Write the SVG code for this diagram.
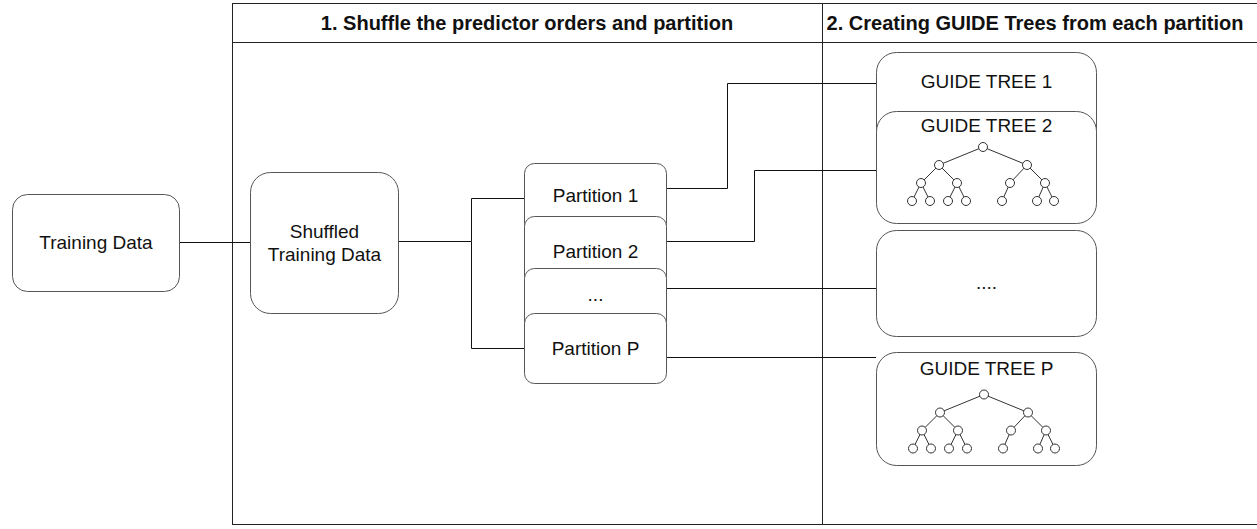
<svg xmlns="http://www.w3.org/2000/svg" width="1257" height="529" viewBox="0 0 1257 529">
<style>
.frame{fill:none;stroke:#222;stroke-width:1}
.box{fill:#fff;stroke:#555;stroke-width:1}
.t{font-family:"Liberation Sans",Arial,sans-serif;font-size:19px;fill:#111;text-anchor:middle}
.h{font-family:"Liberation Sans",Arial,sans-serif;font-size:20px;font-weight:bold;fill:#111;text-anchor:middle}
.c{fill:none;stroke:#111;stroke-width:1}
.tree line{stroke:#333;stroke-width:1}
.tree circle{fill:#fff;stroke:#333;stroke-width:1}
</style>
<defs>
<g id="tree" class="tree">
<line x1="983" y1="147" x2="939" y2="165"/><line x1="983" y1="147" x2="1027" y2="165"/>
<line x1="939" y1="165" x2="921" y2="183"/><line x1="939" y1="165" x2="957" y2="183"/>
<line x1="1027" y1="165" x2="1010" y2="183"/><line x1="1027" y1="165" x2="1045" y2="183"/>
<line x1="921" y1="183" x2="912" y2="201"/><line x1="921" y1="183" x2="930" y2="201"/>
<line x1="957" y1="183" x2="948" y2="201"/><line x1="957" y1="183" x2="966" y2="201"/>
<line x1="1010" y1="183" x2="1002" y2="201"/>
<line x1="1045" y1="183" x2="1037" y2="201"/><line x1="1045" y1="183" x2="1054" y2="201"/>
<circle cx="983" cy="147" r="4.5"/>
<circle cx="939" cy="165" r="4.5"/><circle cx="1027" cy="165" r="4.5"/>
<circle cx="921" cy="183" r="4.5"/><circle cx="957" cy="183" r="4.5"/><circle cx="1010" cy="183" r="4.5"/><circle cx="1045" cy="183" r="4.5"/>
<circle cx="912" cy="201" r="4.5"/><circle cx="930" cy="201" r="4.5"/><circle cx="948" cy="201" r="4.5"/><circle cx="966" cy="201" r="4.5"/><circle cx="1002" cy="201" r="4.5"/><circle cx="1037" cy="201" r="4.5"/><circle cx="1054" cy="201" r="4.5"/>
</g>
</defs>
<rect width="1257" height="529" fill="#fff"/>
<g id="swimlanes">
<rect class="frame" x="232.5" y="3.5" width="1030" height="521"/>
<line class="frame" x1="232" y1="42.5" x2="1257" y2="42.5"/>
<line class="frame" x1="822.5" y1="3" x2="822.5" y2="525"/>
<text class="h" x="527" y="29.5">1. Shuffle the predictor orders and partition</text>
<text class="h" x="1035" y="29.5">2. Creating GUIDE Trees from each partition</text>
</g>
<g id="connectors">
<path class="c" d="M180 242.5H250"/>
<path class="c" d="M398 241.5H471.5V198.5H524M471.5 241.5V348.5H524"/>
<path class="c" d="M667 188.5H727.5V83.5H876"/>
<path class="c" d="M667 241.5H754.5V170.5H876"/>
<path class="c" d="M667 288.5H876"/>
<path class="c" d="M667 357.5H876"/>
</g>
<g id="training-data">
<rect class="box" x="12.5" y="194.5" width="167" height="97" rx="15"/>
<text class="t" x="96" y="249">Training Data</text>
</g>
<g id="shuffled">
<rect class="box" x="250.5" y="172.5" width="148" height="141" rx="20"/>
<text class="t" x="324.5" y="238">Shuffled</text>
<text class="t" x="324.5" y="260.5">Training Data</text>
</g>
<g id="partition-1">
<rect class="box" x="524.5" y="163.5" width="142" height="70" rx="10"/>
<text class="t" x="595.5" y="202">Partition 1</text>
</g>
<g id="partition-2">
<rect class="box" x="524.5" y="216.5" width="142" height="70" rx="10"/>
<text class="t" x="595.5" y="257.5">Partition 2</text>
</g>
<g id="partition-dots">
<rect class="box" x="524.5" y="268.5" width="142" height="70" rx="10"/>
<text class="t" x="595.5" y="301">...</text>
</g>
<g id="partition-p">
<rect class="box" x="524.5" y="313.5" width="142" height="70" rx="10"/>
<text class="t" x="595.5" y="355">Partition P</text>
</g>
<g id="guide-tree-1">
<rect class="box" x="876.5" y="52.5" width="220" height="113" rx="20"/>
<text class="t" x="986.5" y="88">GUIDE TREE 1</text>
</g>
<g id="guide-tree-2">
<rect class="box" x="876.5" y="111.5" width="220" height="112" rx="20"/>
<text class="t" x="986.5" y="131.5">GUIDE TREE 2</text>
<use href="#tree"/>
</g>
<g id="guide-tree-dots">
<rect class="box" x="876.5" y="230.5" width="220" height="106" rx="20"/>
<text class="t" x="986.5" y="289">....</text>
</g>
<g id="guide-tree-p">
<rect class="box" x="876.5" y="352.5" width="220" height="113" rx="20"/>
<text class="t" x="986.5" y="375">GUIDE TREE P</text>
<use href="#tree" transform="translate(1 247.5)"/>
</g>
</svg>
